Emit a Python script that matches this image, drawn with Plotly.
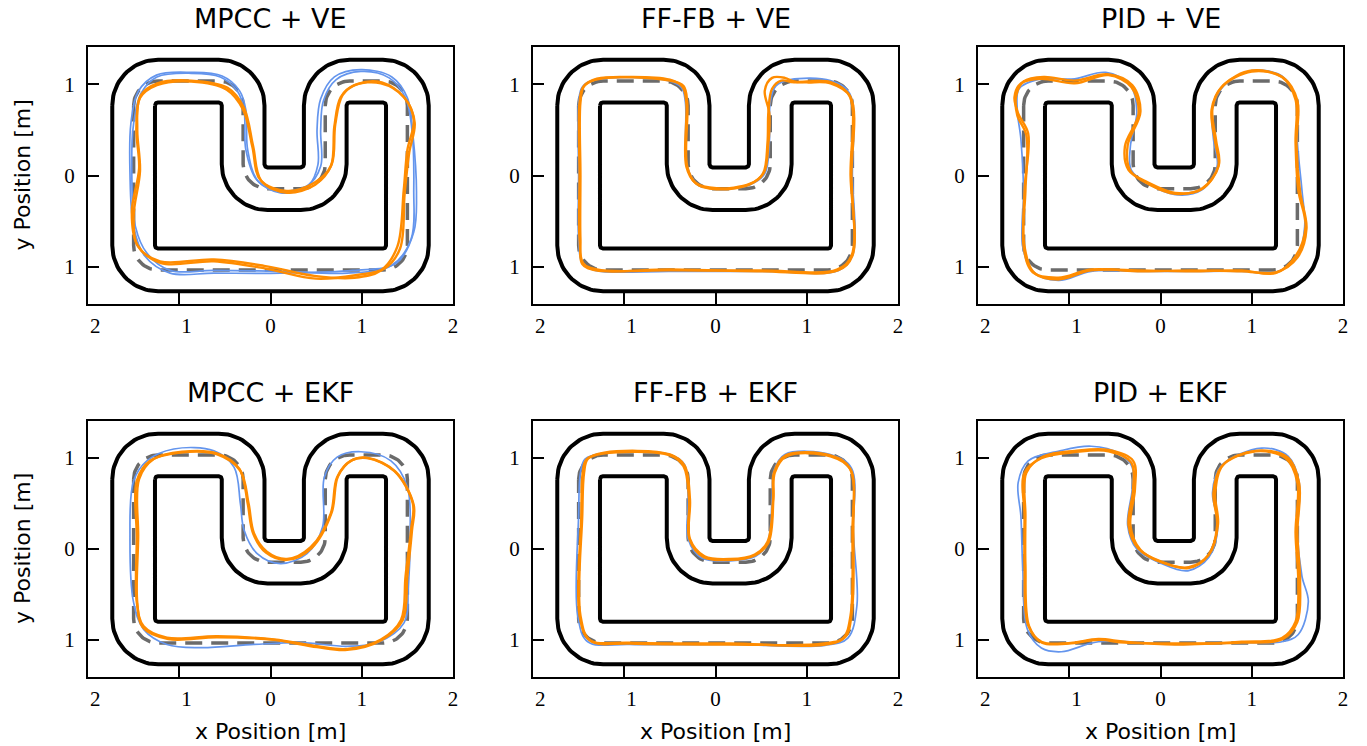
import numpy as np
import plotly.graph_objects as go

# ---------------- data ----------------
# track centerline corners (m), half width and corner radius of centerline
TRACK_CX = [-1.5, -0.3, -0.3, 0.6, 0.6, 1.5, 1.5, -1.5]
TRACK_CY = [1.035, 1.035, -0.145, -0.145, 1.035, 1.035, -1.035, -1.035]
TRACK_HALF_WIDTH = 0.234
TRACK_RADIUS = 0.268

TITLES = ["MPCC + VE", "FF-FB + VE", "PID + VE", "MPCC + EKF", "FF-FB + EKF", "PID + EKF"]
X_TICKVALS = [-2, -1, 0, 1, 2]
# negative labels keep the blank space of their (unrendered) minus sign, as in the original
X_TICKTEXT = ["\u2002\u20092", "\u2002\u20091", "0", "1", "2"]
Y_TICKVALS = [-1, 0, 1]
Y_TICKTEXT = ["1", "0", "1"]

MPCC_VE_BLUE = [(-1.50, 0.57), (-1.42, 0.90), (-1.245, 1.08), (-0.87, 1.12), (-0.55, 1.08), (-0.36, 0.92),
                (-0.29, 0.72), (-0.27, 0.28), (-0.15, -0.05), (0.11, -0.19), (0.40, -0.12), (0.55, 0.10),
                (0.55, 0.50), (0.58, 0.82), (0.72, 1.05), (0.99, 1.14), (1.30, 1.07), (1.48, 0.85),
                (1.55, 0.50), (1.57, -0.16), (1.54, -0.70), (1.32, -0.99), (0.84, -1.07), (0.11, -1.05),
                (-0.62, -1.04), (-1.10, -1.04), (-1.355, -0.85), (-1.48, -0.56), (-1.52, 0.03)]
MPCC_VE_BLUE_2 = [(-1.53, 0.57), (-1.45, 0.92), (-1.25, 1.10), (-0.87, 1.13), (-0.53, 1.09), (-0.34, 0.93),
                  (-0.27, 0.72), (-0.25, 0.28), (-0.13, -0.07), (0.12, -0.17), (0.42, -0.10), (0.52, 0.12),
                  (0.51, 0.50), (0.55, 0.84), (0.70, 1.08), (0.99, 1.16), (1.33, 1.08), (1.50, 0.85),
                  (1.56, 0.45), (1.60, -0.20), (1.57, -0.62), (1.38, -0.96), (0.90, -1.04), (0.11, -1.07),
                  (-0.62, -1.07), (-1.10, -1.07), (-1.38, -0.88), (-1.50, -0.56), (-1.54, 0.03)]
MPCC_VE_ORANGE = [(-1.50, -0.45), (-1.43, 0.05), (-1.46, 0.50), (-1.43, 0.85), (-1.245, 0.99), (-0.87, 1.03),
                  (-0.48, 0.94), (-0.30, 0.72), (-0.20, 0.32), (-0.11, -0.05), (0.18, -0.17), (0.48, -0.08),
                  (0.66, 0.10), (0.70, 0.54), (0.77, 0.86), (0.92, 0.99), (1.21, 1.01), (1.46, 0.86),
                  (1.57, 0.61), (1.50, 0.28), (1.46, -0.16), (1.39, -0.78), (1.21, -1.04), (0.92, -1.12),
                  (0.48, -1.10), (-0.07, -0.99), (-0.62, -0.92), (-1.21, -0.94), (-1.45, -0.78)]
MPCC_VE_ORANGE_2 = [(-1.52, -0.40), (-1.44, 0.08), (-1.47, 0.52), (-1.42, 0.88), (-1.24, 1.01), (-0.87, 1.04),
                    (-0.47, 0.96), (-0.29, 0.74), (-0.19, 0.32), (-0.10, -0.06), (0.18, -0.19), (0.49, -0.10),
                    (0.67, 0.12), (0.71, 0.56), (0.79, 0.88), (0.95, 1.00), (1.22, 1.02), (1.47, 0.85),
                    (1.58, 0.58), (1.52, 0.25), (1.47, -0.20), (1.42, -0.80), (1.25, -1.02), (0.95, -1.09),
                    (0.50, -1.13), (-0.05, -1.02), (-0.62, -0.94), (-1.20, -0.96), (-1.46, -0.76)]

FFFB_VE_BLUE = [(-1.50, 0.0), (-1.50, 0.80), (-1.46, 0.97), (-1.32, 1.05), (-0.52, 1.04), (-0.37, 0.96),
                (-0.33, 0.80), (-0.31, 0.10), (-0.20, -0.09), (0.02, -0.15), (0.38, -0.10), (0.54, 0.02),
                (0.59, 0.36), (0.60, 0.80), (0.66, 0.98), (0.82, 1.05), (1.26, 1.04), (1.47, 0.90),
                (1.50, 0.0), (1.50, -0.88), (1.35, -1.04), (0.50, -1.05), (-0.50, -1.05), (-1.32, -1.04),
                (-1.46, -0.96), (-1.50, -0.70)]
FFFB_VE_ORANGE = [(-1.49, 0.0), (-1.49, 0.80), (-1.45, 0.97), (-1.31, 1.05), (-0.50, 1.05), (-0.36, 0.97),
                  (-0.32, 0.80), (-0.32, 0.10), (-0.22, -0.08), (0.01, -0.14), (0.38, -0.09), (0.53, 0.03),
                  (0.58, 0.36), (0.59, 0.68), (0.54, 0.93), (0.62, 1.07), (0.76, 1.07), (0.86, 1.03),
                  (1.00, 1.02), (1.26, 1.01), (1.48, 0.86), (1.49, 0.0), (1.49, -0.88), (1.33, -1.03),
                  (0.50, -1.04), (-0.50, -1.04), (-1.30, -1.03), (-1.45, -0.96), (-1.49, -0.70)]
FFFB_VE_ORANGE_2 = [(-1.48, 0.0), (-1.48, 0.80), (-1.44, 0.98), (-1.30, 1.06), (-0.50, 1.04), (-0.35, 0.98),
                    (-0.31, 0.80), (-0.31, 0.10), (-0.21, -0.09), (0.01, -0.15), (0.37, -0.10), (0.52, 0.02),
                    (0.57, 0.36), (0.58, 0.70), (0.62, 0.95), (0.72, 1.04), (0.86, 1.02), (1.00, 1.03),
                    (1.27, 1.02), (1.47, 0.87), (1.48, 0.0), (1.50, -0.88), (1.34, -1.04), (0.50, -1.05),
                    (-0.50, -1.03), (-1.31, -1.04), (-1.46, -0.97), (-1.48, -0.70)]

PID_VE_BLUE = [(-1.50, -0.16), (-1.53, 0.40), (-1.57, 0.72), (-1.55, 0.95), (-1.35, 1.05), (-0.94, 1.06),
               (-0.60, 1.13), (-0.33, 0.99), (-0.26, 0.70), (-0.33, 0.32), (-0.32, 0.06), (-0.12, -0.10),
               (0.16, -0.21), (0.45, -0.16), (0.62, 0.10), (0.58, 0.40), (0.57, 0.74), (0.70, 0.99),
               (1.00, 1.15), (1.33, 1.09), (1.49, 0.83), (1.50, 0.36), (1.55, -0.16), (1.58, -0.56),
               (1.50, -0.89), (1.26, -1.06), (0.89, -1.05), (0.34, -1.05), (-0.21, -1.05), (-0.76, -1.05),
               (-1.12, -1.15), (-1.40, -1.05), (-1.51, -0.78)]
PID_VE_ORANGE = [(-1.49, -0.16), (-1.45, 0.46), (-1.56, 0.68), (-1.60, 0.86), (-1.53, 1.01), (-1.31, 1.06),
                 (-0.94, 1.01), (-0.57, 1.10), (-0.32, 0.97), (-0.24, 0.68), (-0.39, 0.32), (-0.35, 0.06),
                 (-0.13, -0.08), (0.16, -0.19), (0.45, -0.15), (0.635, 0.10), (0.60, 0.36), (0.56, 0.72),
                 (0.67, 0.97), (1.00, 1.14), (1.33, 1.08), (1.48, 0.83), (1.48, 0.36), (1.51, -0.16),
                 (1.59, -0.56), (1.48, -0.885), (1.26, -1.07), (0.89, -1.04), (0.34, -1.05), (-0.21, -1.04),
                 (-0.76, -1.04), (-1.12, -1.14), (-1.38, -1.07), (-1.49, -0.78)]
PID_VE_ORANGE_2 = [(-1.48, -0.16), (-1.47, 0.44), (-1.57, 0.66), (-1.58, 0.88), (-1.50, 1.03), (-1.28, 1.08),
                   (-0.94, 1.04), (-0.58, 1.11), (-0.31, 0.99), (-0.22, 0.70), (-0.36, 0.33), (-0.33, 0.05),
                   (-0.12, -0.10), (0.16, -0.20), (0.46, -0.14), (0.64, 0.12), (0.61, 0.38), (0.57, 0.74),
                   (0.69, 0.99), (1.00, 1.15), (1.35, 1.07), (1.50, 0.82), (1.49, 0.34), (1.53, -0.18),
                   (1.60, -0.58), (1.50, -0.90), (1.27, -1.06), (0.89, -1.05), (0.34, -1.04), (-0.21, -1.05),
                   (-0.76, -1.03), (-1.12, -1.12), (-1.40, -1.06), (-1.50, -0.78)]

MPCC_EKF_BLUE = [(-1.54, 0.13), (-1.50, 0.75), (-1.355, 0.97), (-1.06, 1.10), (-0.62, 1.08), (-0.40, 0.90),
                 (-0.33, 0.50), (-0.29, 0.21), (-0.146, -0.05), (0.11, -0.16), (0.40, -0.05), (0.57, 0.24),
                 (0.59, 0.79), (0.73, 1.01), (0.99, 1.07), (1.32, 0.97), (1.50, 0.68), (1.53, 0.13),
                 (1.51, -0.41), (1.465, -0.81), (1.17, -1.03), (0.84, -1.07), (0.33, -1.03), (-0.18, -1.05),
                 (-0.77, -1.085), (-1.135, -1.05), (-1.39, -0.885), (-1.50, -0.59)]
MPCC_EKF_ORANGE = [(-1.465, 0.13), (-1.465, 0.75), (-1.32, 0.97), (-0.99, 1.06), (-0.585, 1.04), (-0.33, 0.86),
                   (-0.24, 0.50), (-0.18, 0.17), (-0.04, -0.03), (0.18, -0.11), (0.44, 0.02), (0.66, 0.39),
                   (0.73, 0.79), (0.88, 0.97), (1.06, 1.00), (1.355, 0.86), (1.56, 0.50), (1.54, 0.21),
                   (1.48, -0.30), (1.43, -0.78), (1.21, -0.995), (0.84, -1.10), (0.51, -1.07), (0.04, -0.995),
                   (-0.585, -0.96), (-1.135, -0.975), (-1.39, -0.85), (-1.465, -0.59)]
MPCC_EKF_ORANGE_2 = [(-1.45, 0.13), (-1.44, 0.77), (-1.28, 0.99), (-0.97, 1.07), (-0.58, 1.05), (-0.34, 0.88),
                     (-0.25, 0.50), (-0.19, 0.17), (-0.05, -0.04), (0.18, -0.12), (0.45, 0.01), (0.67, 0.40),
                     (0.74, 0.80), (0.90, 0.98), (1.08, 1.00), (1.37, 0.85), (1.57, 0.48), (1.55, 0.20),
                     (1.50, -0.30), (1.45, -0.78), (1.22, -1.00), (0.84, -1.11), (0.51, -1.08), (0.04, -1.00),
                     (-0.585, -0.97), (-1.12, -0.99), (-1.40, -0.86), (-1.46, -0.59)]

FFFB_EKF_BLUE = [(-1.50, 0.37), (-1.48, 0.84), (-1.43, 0.99), (-1.25, 1.05), (-0.50, 1.04), (-0.34, 0.93),
                 (-0.30, 0.55), (-0.30, 0.11), (-0.15, -0.10), (0.16, -0.13), (0.44, -0.08), (0.57, 0.07),
                 (0.62, 0.55), (0.64, 0.86), (0.76, 1.04), (1.26, 1.04), (1.49, 0.89), (1.51, 0.18),
                 (1.55, -0.62), (1.45, -0.98), (1.20, -1.06), (0.16, -1.05), (-0.94, -1.05), (-1.40, -1.02),
                 (-1.51, -0.73)]
FFFB_EKF_ORANGE = [(-1.47, 0.37), (-1.455, 0.84), (-1.415, 0.985), (-1.23, 1.05), (-0.50, 1.03), (-0.35, 0.91),
                   (-0.29, 0.55), (-0.285, 0.11), (-0.13, -0.09), (0.16, -0.12), (0.43, -0.07), (0.58, 0.07),
                   (0.635, 0.55), (0.65, 0.84), (0.78, 1.02), (1.26, 1.02), (1.48, 0.875), (1.50, 0.18),
                   (1.48, -0.73), (1.40, -0.98), (1.185, -1.055), (0.16, -1.04), (-0.94, -1.03), (-1.38, -1.0),
                   (-1.49, -0.73)]
FFFB_EKF_ORANGE_2 = [(-1.46, 0.37), (-1.44, 0.84), (-1.40, 0.99), (-1.22, 1.06), (-0.50, 1.04), (-0.34, 0.92),
                     (-0.28, 0.55), (-0.28, 0.11), (-0.12, -0.08), (0.16, -0.11), (0.43, -0.06), (0.57, 0.08),
                     (0.63, 0.55), (0.64, 0.84), (0.77, 1.03), (1.26, 1.03), (1.47, 0.89), (1.51, 0.18),
                     (1.49, -0.73), (1.42, -0.97), (1.19, -1.04), (0.16, -1.05), (-0.94, -1.04), (-1.37, -1.01),
                     (-1.48, -0.73)]

PID_EKF_BLUE = [(-1.53, 0.36), (-1.56, 0.73), (-1.45, 0.97), (-1.10, 1.08), (-0.76, 1.13), (-0.45, 1.05),
                (-0.31, 0.90), (-0.31, 0.66), (-0.36, 0.26), (-0.26, 0.0), (0.01, -0.16), (0.30, -0.24),
                (0.53, -0.09), (0.63, 0.26), (0.57, 0.62), (0.66, 0.91), (1.11, 1.11), (1.40, 1.02),
                (1.52, 0.73), (1.50, 0.18), (1.55, -0.30), (1.62, -0.58), (1.51, -0.94), (1.33, -1.02),
                (0.89, -1.03), (0.16, -1.05), (-0.68, -1.02), (-1.085, -1.13), (-1.305, -1.09), (-1.46, -0.88),
                (-1.51, -0.18)]
PID_EKF_ORANGE = [(-1.49, 0.36), (-1.49, 0.84), (-1.305, 1.0), (-0.94, 1.065), (-0.57, 1.075), (-0.32, 0.95),
                  (-0.30, 0.66), (-0.35, 0.26), (-0.24, 0.0), (0.01, -0.14), (0.305, -0.21), (0.525, -0.07),
                  (0.62, 0.26), (0.58, 0.62), (0.67, 0.91), (1.04, 1.075), (1.37, 1.0), (1.50, 0.73),
                  (1.48, 0.18), (1.51, -0.36), (1.48, -0.80), (1.33, -0.98), (0.89, -1.02), (0.16, -1.05),
                  (-0.39, -1.02), (-0.68, -0.99), (-1.01, -1.035), (-1.305, -1.02), (-1.45, -0.84),
                  (-1.49, -0.18)]
PID_EKF_ORANGE_2 = [(-1.48, 0.36), (-1.47, 0.84), (-1.28, 1.02), (-0.94, 1.08), (-0.57, 1.09), (-0.30, 0.97),
                    (-0.28, 0.66), (-0.33, 0.26), (-0.22, -0.01), (0.02, -0.15), (0.31, -0.20), (0.53, -0.06),
                    (0.63, 0.27), (0.60, 0.62), (0.69, 0.93), (1.04, 1.08), (1.39, 1.01), (1.52, 0.72),
                    (1.50, 0.18), (1.53, -0.36), (1.50, -0.80), (1.34, -0.99), (0.89, -1.03), (0.16, -1.04),
                    (-0.39, -1.03), (-0.68, -1.00), (-1.01, -1.04), (-1.30, -1.03), (-1.44, -0.85),
                    (-1.48, -0.18)]

BLUE_RUNS = [[MPCC_VE_BLUE, MPCC_VE_BLUE_2], [FFFB_VE_BLUE], [PID_VE_BLUE],
             [MPCC_EKF_BLUE], [FFFB_EKF_BLUE], [PID_EKF_BLUE]]
ORANGE_RUNS = [[MPCC_VE_ORANGE, MPCC_VE_ORANGE_2], [FFFB_VE_ORANGE, FFFB_VE_ORANGE_2],
               [PID_VE_ORANGE, PID_VE_ORANGE_2], [MPCC_EKF_ORANGE, MPCC_EKF_ORANGE_2],
               [FFFB_EKF_ORANGE, FFFB_EKF_ORANGE_2], [PID_EKF_ORANGE, PID_EKF_ORANGE_2]]

# ---------------- style ----------------
W, H = 1367, 746
BLUE = "#6495ED"
ORANGE = "#FF8C00"
GRAY = "#6b6b6b"
SANS = "DejaVu Sans"
SERIF = "Liberation Serif"

X_DOMAINS = [(88, 453), (533, 898), (978, 1343)]
Y_DOMAINS = [(47, 304), (421, 677)]


def rounded_offset(cx, cy, r, off, n=24):
    pts = np.column_stack([cx, cy]).astype(float)
    N = len(pts)
    xs, ys = [], []
    for i in range(N):
        p0, p1, p2 = pts[i - 1], pts[i], pts[(i + 1) % N]
        d1 = (p1 - p0) / np.linalg.norm(p1 - p0)
        d2 = (p2 - p1) / np.linalg.norm(p2 - p1)
        s = np.sign(d1[0] * d2[1] - d1[1] * d2[0])
        n1 = np.array([-d1[1], d1[0]])
        c = p1 - r * d1 + s * r * n1
        rad = r - s * off
        v = -s * n1
        a0 = np.arctan2(v[1], v[0])
        t = np.linspace(a0, a0 + s * np.pi / 2, n)
        xs.extend(c[0] + rad * np.cos(t))
        ys.extend(c[1] + rad * np.sin(t))
    xs.append(xs[0])
    ys.append(ys[0])
    return xs, ys


fig = go.Figure()
annotations = []

for k in range(6):
    row, col = divmod(k, 3)
    ax = "" if k == 0 else str(k + 1)
    xref, yref = "x" + ax, "y" + ax

    # track boundaries
    for off in (TRACK_HALF_WIDTH, -TRACK_HALF_WIDTH):
        bx, by = rounded_offset(TRACK_CX, TRACK_CY, TRACK_RADIUS, off)
        fig.add_trace(go.Scatter(x=bx, y=by, mode="lines", line=dict(color="black", width=4),
                                 xaxis=xref, yaxis=yref, showlegend=False, hoverinfo="skip"))
    cxs, cys = rounded_offset(TRACK_CX, TRACK_CY, TRACK_RADIUS, 0.0)
    fig.add_trace(go.Scatter(x=cxs, y=cys, mode="lines",
                             line=dict(color=GRAY, width=3.5, dash="17px,9px"),
                             xaxis=xref, yaxis=yref, showlegend=False, hoverinfo="skip"))

    for runs, color, lw in ((BLUE_RUNS[k], BLUE, 1.7), (ORANGE_RUNS[k], ORANGE, 2.4)):
        for run in runs:
            px = [p[0] for p in run] + [run[0][0]]
            py = [p[1] for p in run] + [run[0][1]]
            fig.add_trace(go.Scatter(x=px, y=py, mode="lines",
                                     line=dict(color=color, width=lw, shape="spline", smoothing=1.0),
                                     xaxis=xref, yaxis=yref, showlegend=False, hoverinfo="skip"))

    x0, x1 = X_DOMAINS[col]
    y0, y1 = Y_DOMAINS[row]
    common = dict(showgrid=False, zeroline=False, showline=True, mirror=True, linecolor="black",
                  linewidth=2, ticks="inside", ticklen=11, tickwidth=1.6, tickcolor="black",
                  tickfont=dict(family=SERIF, size=21, color="black"), fixedrange=True,
                  automargin=False)
    fig.layout["xaxis" + ax] = dict(domain=[x0 / W, x1 / W], range=[-2, 2], anchor=yref,
                                    tickvals=X_TICKVALS, ticktext=X_TICKTEXT, ticklabelstandoff=2,
                                    **common)
    fig.layout["yaxis" + ax] = dict(domain=[1 - y1 / H, 1 - y0 / H], range=[-1.408, 1.408], anchor=xref,
                                    tickvals=Y_TICKVALS, ticktext=Y_TICKTEXT, ticklabelstandoff=7,
                                    **common)

    cxp = (x0 + x1) / 2 / W
    ty = 18 if row == 0 else 392
    annotations.append(dict(text=TITLES[k], x=cxp, y=1 - ty / H, xref="paper", yref="paper",
                            showarrow=False, font=dict(family=SANS, size=27, color="black"),
                            xanchor="center", yanchor="middle"))
    if col == 0:
        annotations.append(dict(text="y Position [m]", x=22 / W, y=1 - (y0 + y1) / 2 / H,
                                xref="paper", yref="paper", showarrow=False, textangle=-90,
                                font=dict(family=SANS, size=22, color="black"),
                                xanchor="center", yanchor="middle"))
    if row == 1:
        annotations.append(dict(text="x Position [m]", x=cxp, y=1 - 731 / H, xref="paper", yref="paper",
                                showarrow=False, font=dict(family=SANS, size=22, color="black"),
                                xanchor="center", yanchor="middle"))

fig.update_layout(width=W, height=H, autosize=False, margin=dict(l=0, r=0, t=0, b=0),
                  paper_bgcolor="white", plot_bgcolor="white", annotations=annotations,
                  showlegend=False)

fig.write_html("out.html", config={"displayModeBar": False},
               post_script="document.body.style.margin='0';")
